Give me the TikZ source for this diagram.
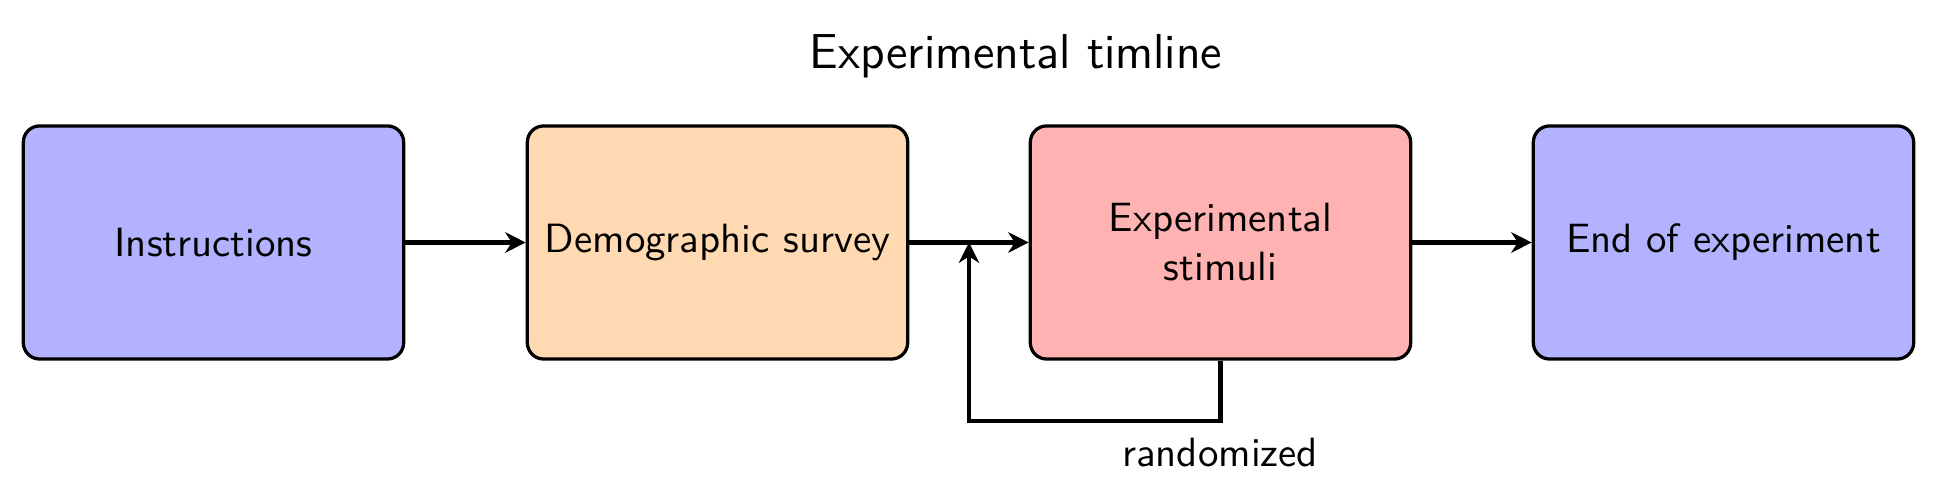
\documentclass[tikz,border=0pt]{standalone}
\usetikzlibrary{arrows.meta}
\begin{document}
\begin{tikzpicture}[x=0.2445pt,y=-0.2445pt,
  box/.style={draw, thick, rounded corners=4pt, minimum width=93pt, minimum height=57pt, align=center, font=\sffamily},
  conn/.style={very thick, -{Stealth[length=5pt,width=5pt,inset=1.6pt]}},
  lbl/.style={font=\sffamily}]
\useasboundingbox (0,0) rectangle (1937,502);
\node[box, fill=blue!30] (instr) at (213.5,242.5) {Instructions};
\node[box, fill=orange!30] (demo) at (717.5,242.5) {Demographic survey};
\node[box, fill=red!30] (stim) at (1220.5,242.5) {Experimental\\stimuli};
\node[box, fill=blue!30] (end) at (1723.5,242.5) {End of experiment};
\node[font=\sffamily\large, anchor=base] (title) at (1016,69) {Experimental timline};
\draw[conn] (instr) -- (demo);
\draw[conn] (demo) -- coordinate[pos=0.5] (mid) (stim);
\draw[conn] (stim) -- (end);
\coordinate (corner) at (1220.5,421);
\draw[conn] (stim.south) -- (corner) -| (mid);
\node[lbl, anchor=base] (rand) at (1220,467) {randomized};
\end{tikzpicture}
\end{document}
